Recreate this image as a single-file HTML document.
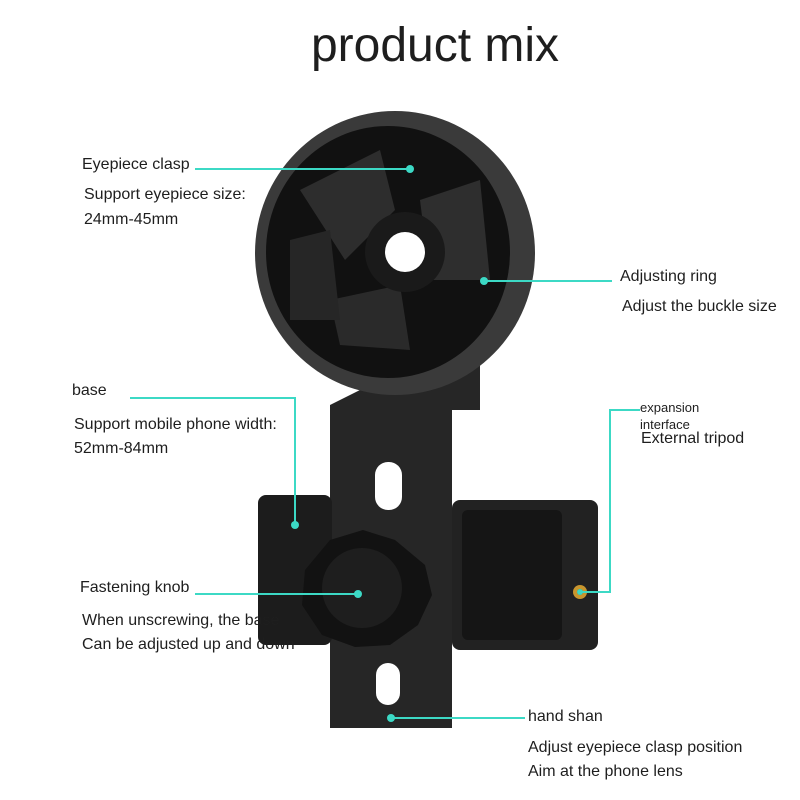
<!DOCTYPE html>
<html><head><meta charset="utf-8"><style>
body{margin:0;width:800px;height:800px;background:#fff;overflow:hidden;position:relative;font-family:"Liberation Sans",sans-serif;}
.t{position:absolute;color:#1e1e1e;font-size:16px;white-space:nowrap;line-height:1;}
svg{position:absolute;left:0;top:0}
</style></head><body>
<svg width="800" height="800">
<defs>
<radialGradient id="g" cx="0.45" cy="0.4" r="0.6"><stop offset="0" stop-color="#3a3a3a"/><stop offset="1" stop-color="#202020"/></radialGradient>
</defs>
<!-- plate -->
<path d="M330 410 L330 728 L452 728 L452 410 L480 410 L480 360 L420 360 L330 405Z" fill="#262626"/>
<rect x="375" y="462" width="27" height="48" rx="13" fill="#fff"/>
<rect x="376" y="663" width="24" height="42" rx="12" fill="#fff"/>
<!-- blocks -->
<rect x="258" y="495" width="74" height="150" rx="8" fill="#1c1c1c"/>
<rect x="452" y="500" width="146" height="150" rx="8" fill="#222"/>
<rect x="462" y="510" width="100" height="130" rx="6" fill="#151515"/>
<!-- disk -->
<ellipse cx="395" cy="253" rx="140" ry="142" fill="#3a3a3a"/>
<ellipse cx="388" cy="252" rx="122" ry="126" fill="#111"/>
<path d="M300 190 L380 150 L395 210 L345 260Z" fill="#2d2d2d"/>
<path d="M420 200 L480 180 L490 280 L430 280Z" fill="#2e2e2e"/>
<path d="M330 300 L400 285 L410 350 L340 345Z" fill="#2a2a2a"/>
<path d="M290 240 L330 230 L340 320 L290 320Z" fill="#262626"/>
<circle cx="405" cy="252" r="40" fill="#1a1a1a"/>
<circle cx="405" cy="252" r="20" fill="#fff"/>
<!-- knob -->
<path d="M363 530 L395 540 L425 565 L432 595 L418 625 L390 645 L355 647 L322 635 L302 605 L305 570 L330 540Z" fill="#121212"/>
<circle cx="362" cy="588" r="40" fill="#1e1e1e"/>
<!-- tripod hole -->
<circle cx="580" cy="592" r="7" fill="#c8962e"/><circle cx="580" cy="592" r="3" fill="#5a3a10"/>
<g stroke="#3cd9c5" stroke-width="2" fill="none">
<line x1="195" y1="169" x2="410" y2="169"/>
<line x1="485" y1="281" x2="612" y2="281"/>
<polyline points="130,398 295,398 295,525"/>
<polyline points="640,410 610,410 610,592 580,592"/>
<line x1="195" y1="594" x2="358" y2="594"/>
<line x1="390" y1="718" x2="525" y2="718"/>
</g>
<g fill="#3cd9c5">
<circle cx="410" cy="169" r="4"/><circle cx="484" cy="281" r="4"/><circle cx="295" cy="525" r="4"/>
<circle cx="580" cy="592" r="3"/><circle cx="358" cy="594" r="4"/><circle cx="391" cy="718" r="4"/>
</g>
</svg>
<div class="t" style="left:0;width:870px;text-align:center;top:22px;font-size:48px;">product mix</div>
<div class="t" style="left:82px;top:157px">Eyepiece clasp</div>
<div class="t" style="left:84px;top:187px">Support eyepiece size:</div>
<div class="t" style="left:84px;top:212px">24mm-45mm</div>
<div class="t" style="left:620px;top:269px">Adjusting ring</div>
<div class="t" style="left:622px;top:299px">Adjust the buckle size</div>
<div class="t" style="left:72px;top:383px">base</div>
<div class="t" style="left:74px;top:417px">Support mobile phone width:</div>
<div class="t" style="left:74px;top:441px">52mm-84mm</div>
<div class="t" style="left:640px;top:401px;font-size:13px">expansion</div>
<div class="t" style="left:640px;top:418px;font-size:13px">interface</div>
<div class="t" style="left:641px;top:431px">External tripod</div>
<div class="t" style="left:80px;top:580px">Fastening knob</div>
<div class="t" style="left:82px;top:613px">When unscrewing, the base</div>
<div class="t" style="left:82px;top:637px">Can be adjusted up and down</div>
<div class="t" style="left:528px;top:709px">hand shan</div>
<div class="t" style="left:528px;top:740px">Adjust eyepiece clasp position</div>
<div class="t" style="left:528px;top:764px">Aim at the phone lens</div>
</body></html>
